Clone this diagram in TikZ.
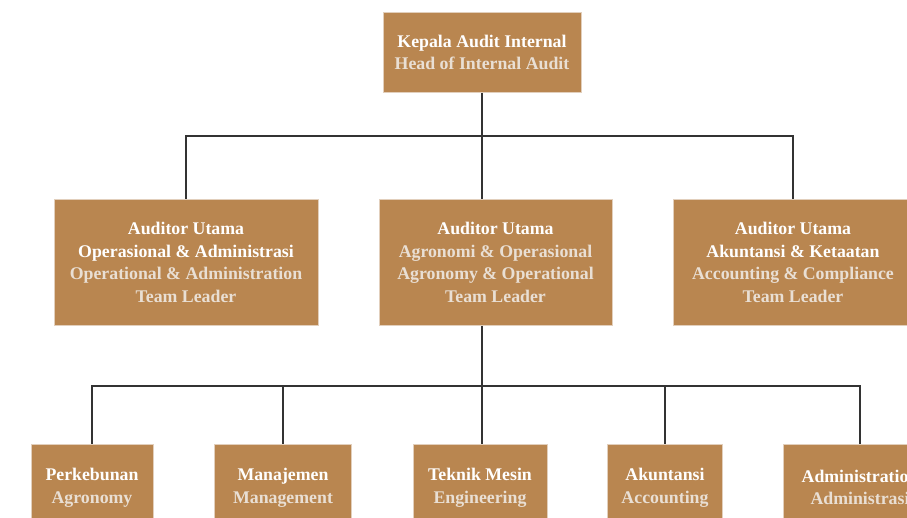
\documentclass[tikz,border=0pt]{standalone}
\usepackage{fontspec}
\setmainfont{Liberation Serif}
\usepackage{xcolor}
\definecolor{box}{HTML}{B98650}
\definecolor{boxrim}{HTML}{E2CFBC}
\definecolor{soft}{HTML}{E9DFD4}
\definecolor{wire}{HTML}{333333}

\tikzset{
  post/.style={fill=box,draw=boxrim,line width=1pt,align=center,inner sep=0pt,
    text=white,font=\bfseries\fontsize{17.8}{22.6}\selectfont},
  link/.style={wire,line width=1.3pt}
}

\begin{document}
\begin{tikzpicture}[x=1pt,y=-1pt]
  \useasboundingbox (0,0) rectangle (907,518);
  \clip (0,0) rectangle (907,518);
  \fill[white] (0,0) rectangle (907,518);

  % head of the unit
  \node[post,minimum width=198pt,minimum height=80pt] (head) at (482,52.5)
    {Kepala Audit Internal\\ \textcolor{soft}{Head of Internal Audit}};

  % team leaders
  \node[post,minimum width=264pt,minimum height=126pt] (leadL) at (186,262.5)
    {Auditor Utama\\ Operasional \& Administrasi\\
     \textcolor{soft}{Operational \& Administration}\\ \textcolor{soft}{Team Leader}};
  \node[post,minimum width=233pt,minimum height=126pt] (leadM) at (495.5,262.5)
    {Auditor Utama\\ \textcolor{soft}{Agronomi \& Operasional}\\
     \textcolor{soft}{Agronomy \& Operational}\\ \textcolor{soft}{Team Leader}};
  \node[post,minimum width=240pt,minimum height=126pt] (leadR) at (793,262.5)
    {Auditor Utama\\ Akuntansi \& Ketaatan\\
     \textcolor{soft}{Accounting \& Compliance}\\ \textcolor{soft}{Team Leader}};

  % auditors under the middle leader
  \node[post,minimum width=122pt,minimum height=87pt] (agro) at (92,487.5)
    {Perkebunan\\ \textcolor{soft}{Agronomy}};
  \node[post,minimum width=137pt,minimum height=87pt] (mgmt) at (283,487.5)
    {Manajemen\\ \textcolor{soft}{Management}};
  \node[post,minimum width=134pt,minimum height=87pt] (engr) at (480,487.5)
    {Teknik Mesin\\ \textcolor{soft}{Engineering}};
  \node[post,minimum width=115pt,minimum height=87pt] (acct) at (665,487.5)
    {Akuntansi\\ \textcolor{soft}{Accounting}};
  \node[post,minimum width=153pt,minimum height=87pt] (admin) at (860,487.5)
    {Administration\\ \textcolor{soft}{Administrasi}};

  \coordinate (bus1) at (482,136);
  \coordinate (bus2) at (482,386);

  % upper tier
  \draw[link] (head) -- (bus1);
  \draw[link] (leadL.north) |- (bus1) -| (leadR.north);
  \draw[link] (bus1) -- (bus1 |- leadM.north);

  % lower tier
  \draw[link] (bus1 |- leadM.south) -- (bus2);
  \draw[link] (agro.north) |- (bus2) -| (admin.north);
  \draw[link] (mgmt.north) -- (mgmt.north |- bus2);
  \draw[link] (bus2) -- (bus2 |- engr.north);
  \draw[link] (acct.north) -- (acct.north |- bus2);
\end{tikzpicture}
\end{document}
